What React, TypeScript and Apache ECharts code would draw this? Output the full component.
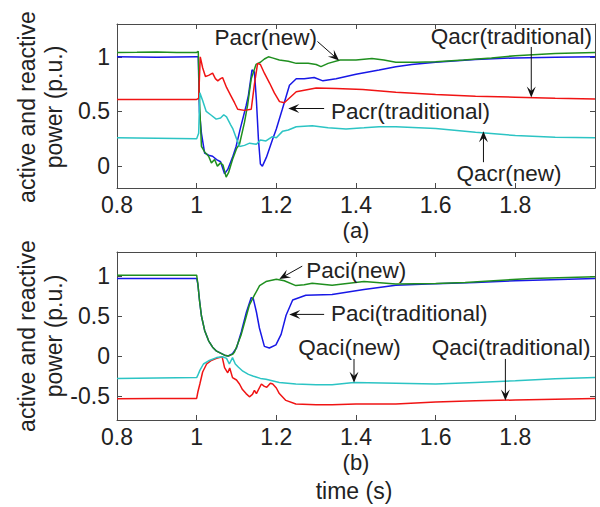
import React, { useEffect, useRef } from "react";
import * as echarts from "echarts";

// ---------- axis ticks ----------
const xTicks = [0.8, 1, 1.2, 1.4, 1.6, 1.8];
const yTicksA = [0, 0.5, 1];
const yTicksB = [-0.5, 0, 0.5, 1];

// ---------- panel (a) ----------
const pacrNew: number[][] = [
  [0.8, 1.04], [0.85, 1.042], [0.9, 1.045], [0.95, 1.04], [1.0, 1.04], [1.004, 1.05], [1.007, 0.6],
  [1.012, 0.18], [1.02, 0.13], [1.03, 0.09], [1.037, 0.03], [1.045, 0.06], [1.052, 0.0], [1.06, 0.03],
  [1.066, 0.01], [1.074, -0.1], [1.08, -0.06], [1.09, 0.06], [1.1, 0.16], [1.1075, 0.2], [1.12, 0.4],
  [1.128, 0.56], [1.137, 0.8], [1.149, 0.93], [1.16, 0.95], [1.17, 0.98], [1.18, 1.0], [1.19, 0.99],
  [1.2075, 0.97], [1.23, 0.96], [1.25, 0.94], [1.28, 0.94], [1.3, 0.93], [1.312, 0.91], [1.33, 0.94],
  [1.36, 0.97], [1.4, 0.97], [1.44, 0.985], [1.47, 0.97], [1.5, 0.95], [1.55, 0.95], [1.6, 0.955],
  [1.67, 0.97], [1.74, 0.99], [1.8, 1.01], [1.9, 1.03], [2.0, 1.04],
];
const pacrTrad: number[][] = [
  [0.8, 1.0], [0.9, 0.995], [1.0, 1.0], [1.004, 1.0], [1.007, 0.5], [1.012, 0.3], [1.02, 0.12],
  [1.03, 0.1], [1.04, 0.09], [1.05, 0.06], [1.06, 0.04], [1.07, -0.07], [1.078, -0.03], [1.09, 0.08],
  [1.099, 0.18], [1.11, 0.35], [1.124, 0.55], [1.13, 0.65], [1.139, 0.88], [1.145, 0.86], [1.15, 0.6],
  [1.155, 0.25], [1.16, 0.02], [1.165, 0.0], [1.175, 0.08], [1.19, 0.24], [1.2, 0.34], [1.215, 0.52],
  [1.233, 0.74], [1.25, 0.8], [1.27, 0.8], [1.295, 0.81], [1.317, 0.78], [1.35, 0.8], [1.375, 0.82],
  [1.4, 0.84], [1.458, 0.88], [1.5, 0.91], [1.54, 0.93], [1.6, 0.95], [1.7, 0.975], [1.8, 0.99],
  [1.9, 0.995], [2.0, 1.0],
];
const qacrTrad: number[][] = [
  [0.8, 0.61], [0.9, 0.61], [1.0, 0.61], [1.005, 0.62], [1.009, 1.0], [1.015, 0.9], [1.022, 0.82],
  [1.03, 0.83], [1.04, 0.85], [1.047, 0.8], [1.053, 0.78], [1.06, 0.8], [1.065, 0.81], [1.075, 0.72],
  [1.085, 0.65], [1.095, 0.58], [1.103, 0.52], [1.12, 0.51], [1.137, 0.52], [1.145, 0.75],
  [1.153, 0.94], [1.16, 0.93], [1.17, 0.85], [1.183, 0.76], [1.195, 0.67], [1.208, 0.59],
  [1.22, 0.58], [1.235, 0.63], [1.25, 0.68], [1.3, 0.715], [1.35, 0.71], [1.417, 0.7], [1.5, 0.675],
  [1.6, 0.655], [1.7, 0.64], [1.8, 0.63], [1.9, 0.62], [2.0, 0.615],
];
const qacrNew: number[][] = [
  [0.8, 0.26], [0.9, 0.255], [1.0, 0.25], [1.005, 0.3], [1.008, 0.67], [1.015, 0.6], [1.024, 0.5],
  [1.035, 0.47], [1.049, 0.43], [1.06, 0.44], [1.068, 0.47], [1.075, 0.45], [1.085, 0.38],
  [1.091, 0.34], [1.1, 0.25], [1.108, 0.18], [1.12, 0.19], [1.133, 0.21], [1.15, 0.2], [1.16, 0.24],
  [1.174, 0.23], [1.19, 0.27], [1.2, 0.26], [1.216, 0.32], [1.23, 0.33], [1.25, 0.36], [1.29, 0.37],
  [1.33, 0.35], [1.375, 0.34], [1.42, 0.35], [1.458, 0.36], [1.5, 0.36], [1.6, 0.345], [1.7, 0.31],
  [1.8, 0.28], [1.9, 0.265], [2.0, 0.26],
];

// ---------- panel (b) ----------
const paciNew: number[][] = [
  [0.8, 1.01], [0.9, 1.01], [1.0, 1.01], [1.003, 0.9], [1.007, 0.7], [1.012, 0.5], [1.02, 0.32],
  [1.03, 0.19], [1.04, 0.11], [1.05, 0.06], [1.06, 0.035], [1.07, 0.01], [1.078, 0.0], [1.09, 0.02],
  [1.095, 0.05], [1.103, 0.15], [1.112, 0.27], [1.122, 0.45], [1.1325, 0.64], [1.145, 0.76],
  [1.158, 0.88], [1.174, 0.93], [1.2, 0.96], [1.22, 0.94], [1.249, 0.88], [1.27, 0.89], [1.29, 0.91],
  [1.34, 0.885], [1.42, 0.93], [1.5, 0.9], [1.6, 0.905], [1.674, 0.92], [1.84, 0.97], [2.0, 0.99],
];
const paciTrad: number[][] = [
  [0.8, 0.97], [0.9, 0.97], [1.0, 0.97], [1.003, 0.9], [1.007, 0.7], [1.012, 0.5], [1.02, 0.32],
  [1.03, 0.19], [1.04, 0.11], [1.05, 0.06], [1.06, 0.035], [1.07, 0.01], [1.08, 0.0], [1.09, 0.03],
  [1.1, 0.1], [1.112, 0.3], [1.125, 0.55], [1.137, 0.73], [1.142, 0.72], [1.15, 0.55],
  [1.1575, 0.35], [1.17, 0.12], [1.1825, 0.1], [1.199, 0.14], [1.212, 0.27], [1.2245, 0.51],
  [1.241, 0.7], [1.274, 0.76], [1.34, 0.77], [1.38, 0.8], [1.42, 0.83], [1.5, 0.885], [1.58, 0.9],
  [1.7, 0.92], [1.8, 0.94], [2.0, 0.97],
];
const qaciNew: number[][] = [
  [0.8, -0.28], [0.9, -0.275], [1.0, -0.27], [1.003, -0.24], [1.008, -0.18], [1.017, -0.1],
  [1.03, -0.06], [1.05, -0.02], [1.065, -0.01], [1.075, -0.03], [1.082, -0.1], [1.09, -0.02],
  [1.097, -0.1], [1.105, -0.14], [1.116, -0.19], [1.13, -0.23], [1.141, -0.25], [1.16, -0.28],
  [1.174, -0.29], [1.2075, -0.33], [1.249, -0.35], [1.3, -0.36], [1.34, -0.36], [1.395, -0.33],
  [1.5, -0.34], [1.6, -0.35], [1.7, -0.33], [1.8, -0.31], [1.9, -0.285], [2.0, -0.27],
];
const qaciTrad: number[][] = [
  [0.8, -0.535], [0.9, -0.53], [1.0, -0.53], [1.003, -0.45], [1.008, -0.35], [1.015, -0.2],
  [1.025, -0.1], [1.035, -0.06], [1.05, -0.03], [1.064, -0.01], [1.07, -0.145], [1.078, -0.21],
  [1.083, -0.15], [1.09, -0.27], [1.1, -0.3], [1.1075, -0.35], [1.115, -0.42], [1.124, -0.47],
  [1.1325, -0.51], [1.14, -0.48], [1.145, -0.43], [1.15, -0.47], [1.1625, -0.35], [1.17, -0.38],
  [1.176, -0.39], [1.185, -0.34], [1.191, -0.35], [1.2, -0.4], [1.2075, -0.47], [1.224, -0.555],
  [1.249, -0.6], [1.3, -0.61], [1.34, -0.61], [1.4, -0.6], [1.5, -0.6], [1.6, -0.575], [1.7, -0.56],
  [1.8, -0.55], [1.9, -0.54], [2.0, -0.53],
];

// ---------- annotations (data coords) ----------
const notesA = [
  { text: "Pacr(new)", at: [1.045, 1.18], from: [1.3033, 1.14], to: [1.3575, 0.966] },
  { text: "Qacr(traditional)", at: [1.5875, 1.19], from: [1.84, 1.09], to: [1.84, 0.627] },
  { text: "Pacr(traditional)", at: [1.3375, 0.5], from: [1.32, 0.527], to: [1.23, 0.527] },
  { text: "Qacr(new)", at: [1.6525, -0.064], from: [1.72, 0.036], to: [1.72, 0.318] },
];
const notesB = [
  { text: "Paci(new)", at: [1.275, 1.074], from: [1.265, 1.123], to: [1.2075, 0.963] },
  { text: "Paci(traditional)", at: [1.3375, 0.53], from: [1.32, 0.52], to: [1.2325, 0.52] },
  { text: "Qaci(new)", at: [1.255, 0.11], from: [1.395, -0.037], to: [1.395, -0.333] },
  { text: "Qaci(traditional)", at: [1.59, 0.11], from: [1.775, -0.037], to: [1.775, -0.556] },
];

const FONT = "'Liberation Sans', Arial, sans-serif";
const GREEN = "#1f8f1f";
const BLUE = "#1818e6";
const RED = "#f01414";
const CYAN = "#2cc4c4";
const AXIS = "#4a4a4a";

export default function App() {
  const ref = useRef<HTMLDivElement>(null);
  useEffect(() => {
    if (!ref.current) return;
    const chart = echarts.init(ref.current, null, { renderer: "svg" });

    const grids = [
      { left: 117, top: 24, width: 478, height: 164 },
      { left: 117, top: 252, width: 478, height: 168 },
    ];
    const yRanges = [
      [-0.2, 1.3],
      [-0.8, 1.3],
    ];
    const yTickSets = [yTicksA, yTicksB];

    const xAxes: any[] = [];
    const yAxes: any[] = [];
    for (let g = 0; g < 2; g++) {
      for (const pos of ["bottom", "top"]) {
        const labels = pos === "bottom";
        xAxes.push({
          type: "value",
          gridIndex: g,
          position: pos,
          min: 0.8,
          max: 2.0,
          axisLine: { show: true, onZero: false, lineStyle: { color: AXIS, width: 1 } },
          axisTick: { show: true, inside: true, length: 5, customValues: xTicks, lineStyle: { color: AXIS } },
          axisLabel: {
            show: labels,
            customValues: xTicks,
            margin: 5,
            color: "#222",
            fontFamily: FONT,
            fontSize: 23,
            lineHeight: 23,
          },
          splitLine: { show: false },
        });
      }
      for (const pos of ["left", "right"]) {
        const labels = pos === "left";
        yAxes.push({
          type: "value",
          gridIndex: g,
          position: pos,
          min: yRanges[g][0],
          max: yRanges[g][1],
          axisLine: { show: true, onZero: false, lineStyle: { color: AXIS, width: 1 } },
          axisTick: { show: true, inside: true, length: 5, customValues: yTickSets[g], lineStyle: { color: AXIS } },
          axisLabel: {
            show: labels,
            customValues: yTickSets[g],
            margin: 7,
            color: "#222",
            fontFamily: FONT,
            fontSize: 23,
          },
          splitLine: { show: false },
        });
      }
    }

    const mk = (data: number[][], color: string, g: number) => ({
      type: "line",
      xAxisIndex: g * 2,
      yAxisIndex: g * 2,
      data,
      showSymbol: false,
      symbol: "none",
      lineStyle: { color, width: 1.5 },
      z: 2,
    });

    chart.setOption({
      animation: false,
      backgroundColor: "#ffffff",
      grid: grids.map((g) => ({ ...g, show: false })),
      xAxis: xAxes,
      yAxis: yAxes,
      series: [
        mk(pacrTrad, BLUE, 0),
        mk(pacrNew, GREEN, 0),
        mk(qacrTrad, RED, 0),
        mk(qacrNew, CYAN, 0),
        mk(paciTrad, BLUE, 1),
        mk(paciNew, GREEN, 1),
        mk(qaciTrad, RED, 1),
        mk(qaciNew, CYAN, 1),
      ],
    });

    const graphics: any[] = [];
    const textStyle = (text: string, size: number, align: string) => ({
      text,
      fill: "#222",
      font: `${size}px ${FONT}`,
      textAlign: align,
      textVerticalAlign: "middle",
    });

    const addNotes = (notes: any[], g: number) => {
      for (const n of notes) {
        const p = chart.convertToPixel({ gridIndex: g }, n.at) as number[];
        graphics.push({ type: "text", x: p[0], y: p[1], style: textStyle(n.text, 22.5, "left"), z: 10 });
        const a = chart.convertToPixel({ gridIndex: g }, n.from) as number[];
        const b = chart.convertToPixel({ gridIndex: g }, n.to) as number[];
        const dx = b[0] - a[0];
        const dy = b[1] - a[1];
        const len = Math.hypot(dx, dy) || 1;
        const ux = dx / len;
        const uy = dy / len;
        const nx = -uy;
        const ny = ux;
        const L = 11;
        const W = 4.5;
        graphics.push({
          type: "line",
          shape: { x1: a[0], y1: a[1], x2: b[0] - ux * L * 0.6, y2: b[1] - uy * L * 0.6 },
          style: { stroke: "#111", lineWidth: 1 },
          z: 10,
        });
        graphics.push({
          type: "polygon",
          shape: {
            points: [
              [b[0], b[1]],
              [b[0] - ux * L + nx * W, b[1] - uy * L + ny * W],
              [b[0] - ux * L * 0.6, b[1] - uy * L * 0.6],
              [b[0] - ux * L - nx * W, b[1] - uy * L - ny * W],
            ],
          },
          style: { fill: "#111" },
          z: 10,
        });
      }
    };
    addNotes(notesA, 0);
    addNotes(notesB, 1);

    // y-axis titles
    const ylab = [107, 336];
    for (const cy of ylab) {
      graphics.push({
        type: "text",
        x: 27,
        y: cy,
        rotation: Math.PI / 2,
        style: textStyle("active and reactive", 23, "center"),
      });
      graphics.push({
        type: "text",
        x: 54,
        y: cy,
        rotation: Math.PI / 2,
        style: textStyle("power (p.u.)", 23, "center"),
      });
    }
    graphics.push({ type: "text", x: 356, y: 230, style: textStyle("(a)", 22, "center") });
    graphics.push({ type: "text", x: 356, y: 462, style: textStyle("(b)", 22, "center") });
    graphics.push({ type: "text", x: 354, y: 491, style: textStyle("time (s)", 23, "center") });

    chart.setOption({ graphic: graphics });

    return () => chart.dispose();
  }, []);

  return (
    <div
      ref={ref}
      style={{ position: "fixed", left: 0, top: 0, width: 600, height: 507, background: "#fff" }}
    />
  );
}
